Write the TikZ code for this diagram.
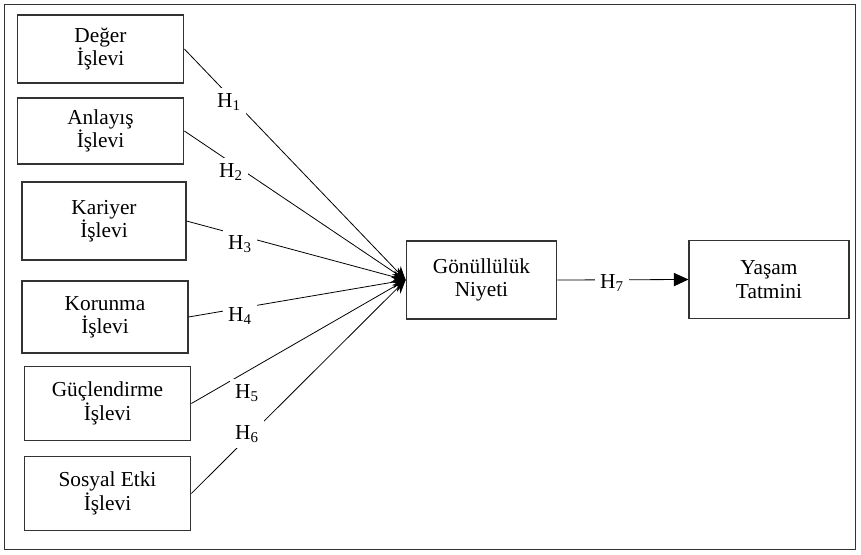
\documentclass[tikz,border=0pt]{standalone}
\usepackage{fontspec}
\setmainfont{Liberation Serif}
\usetikzlibrary{arrows.meta}

\begin{document}
\begin{tikzpicture}[
    x=0.75pt, y=-0.75pt,
    every node/.style={font=\fontsize{16}{17.5}\selectfont},
    box/.style={
        draw=black!80,
        line width=0.8pt,
        align=center,
        inner sep=0pt
    },
    hlab/.style={fill=white, inner sep=4pt},
    conn/.style={line width=0.6pt},
    tip/.style={-{Stealth[length=10pt, width=9pt]}},
    endtip/.style={-{Triangle[length=11pt, width=10pt]}}
]
    \useasboundingbox (0,0) rectangle (861,554);
    \draw[black!80, line width=0.7pt] (4,4) rectangle (855,549);

    % Functions
    \node[box, minimum width=125pt, minimum height=51pt] (deger) at (100.5,49) {Değer\\İşlevi};
    \node[box, minimum width=125pt, minimum height=49.5pt] (anlayis) at (100.5,131) {Anlayış\\İşlevi};
    \node[box, minimum width=123pt, minimum height=58.5pt] (kariyer) at (104,221) {Kariyer\\İşlevi};
    \node[box, minimum width=124.5pt, minimum height=54pt] (korunma) at (105,317) {Korunma\\İşlevi};
    \node[box, minimum width=125pt, minimum height=55pt] (guclen) at (107.5,403.5) {Güçlendirme\\İşlevi};
    \node[box, minimum width=125pt, minimum height=55pt] (sosyal) at (107.5,493.5) {Sosyal Etki\\İşlevi};

    % Intention and satisfaction
    \node[box, minimum width=113pt, minimum height=58.5pt] (gonul) at (481.5,280) {Gönüllülük\\Niyeti};
    \node[box, minimum width=120pt, minimum height=58pt] (yasam) at (769,279.5) {Yaşam\\Tatmini};

    % Paths
    \draw[conn, tip] (deger.east) -- (gonul.west);
    \draw[conn, tip] (anlayis.east) -- (gonul.west);
    \draw[conn, tip] (kariyer.east) -- (gonul.west);
    \draw[conn, tip] (korunma.east) -- (gonul.west);
    \draw[conn, tip] (guclen.east) -- (gonul.west);
    \draw[conn, tip] (sosyal.east) -- (gonul.west);
    \draw[conn, endtip] (gonul.east) -- (yasam.west);

    % Hypotheses
    \node[hlab] (h1) at (229,102) {H\textsubscript{1}};
    \node[hlab] (h2) at (231,172) {H\textsubscript{2}};
    \node[hlab] (h3) at (240,244) {H\textsubscript{3}};
    \node[hlab] (h4) at (240,316) {H\textsubscript{4}};
    \node[hlab] (h5) at (247,393) {H\textsubscript{5}};
    \node[hlab] (h6) at (247,434) {H\textsubscript{6}};
    \node[hlab] (h7) at (612,283) {H\textsubscript{7}};

\end{tikzpicture}
\end{document}
